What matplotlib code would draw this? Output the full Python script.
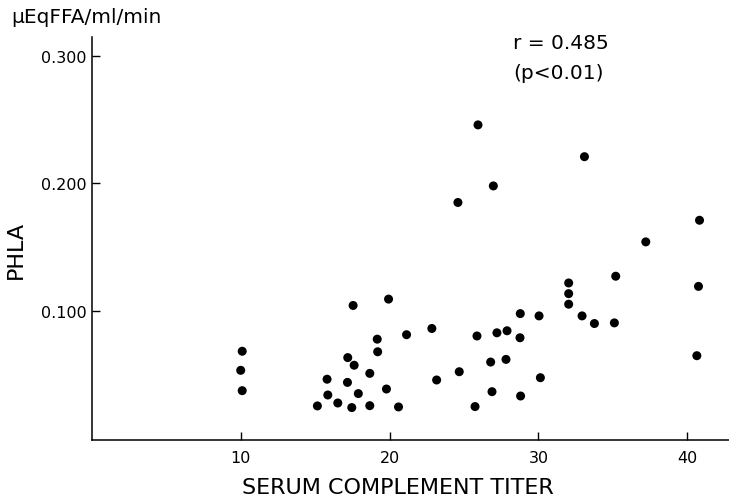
import matplotlib
matplotlib.use("Agg")
import matplotlib.pyplot as plt

# serum complement titer vs PHLA
titer = [10.1, 10.0, 10.1,
         17.55, 19.93, 21.14, 19.17, 19.2, 17.19, 17.62, 18.67, 15.8,
         17.17, 19.79, 15.85, 17.9, 16.52, 15.15, 17.46, 18.67, 20.6,
         22.84, 23.16, 24.68, 25.87, 25.74, 26.79, 26.88, 27.21, 27.89,
         27.82, 28.78, 28.76, 28.8, 30.04, 30.13, 32.03, 32.03, 32.03,
         32.93, 33.76, 35.1, 35.19, 40.75, 40.64,
         25.94, 33.09, 26.97, 24.59, 40.82, 37.21]
phla = [0.068, 0.053, 0.037,
        0.104, 0.109, 0.081, 0.0775, 0.0676, 0.063, 0.057, 0.0506, 0.046,
        0.0435, 0.0383, 0.0336, 0.0347, 0.0273, 0.025, 0.0237, 0.0252, 0.0242,
        0.0859, 0.0454, 0.0519, 0.080, 0.0245, 0.0595, 0.0362, 0.0825, 0.0841,
        0.0616, 0.0976, 0.0786, 0.0328, 0.0958, 0.0472, 0.1217, 0.1133, 0.105,
        0.0958, 0.0898, 0.0903, 0.127, 0.119, 0.0645,
        0.246, 0.221, 0.198, 0.185, 0.171, 0.154]

xticks = [10, 20, 30, 40]
yticks = [0.100, 0.200, 0.300]
ytick_labels = ["0.100", "0.200", "0.300"]

fig = plt.figure(figsize=(7.29, 5.02), dpi=100)
ax = fig.add_axes([0.126, 0.121, 0.874, 0.803])

ax.scatter(titer, phla, s=42, color="black", edgecolors="none", zorder=3)

ax.set_xlim(0, 42.8)
ax.set_ylim(-0.002, 0.315)
ax.set_xticks(xticks)
ax.set_yticks(yticks)
ax.set_yticklabels(ytick_labels)
ax.tick_params(direction="in", length=6, width=1, labelsize=11.5)
ax.tick_params(axis="x", pad=7)
ax.tick_params(axis="y", pad=4)

for side in ["top", "right"]:
    ax.spines[side].set_visible(False)
for side in ["left", "bottom"]:
    ax.spines[side].set_linewidth(1.1)

ax.set_xlabel("SERUM COMPLEMENT TITER", fontsize=16)
ax.xaxis.set_label_coords(0.48, -0.092)
ax.set_ylabel("PHLA", fontsize=16)
ax.yaxis.set_label_coords(-0.104, 0.474)
fig.text(0.016, 0.966, "µEqFFA/ml/min", fontsize=14.5, ha="left", va="center")

ax.text(0.661, 1.01, "r = 0.485\n(p<0.01)", transform=ax.transAxes,
        fontsize=14.5, ha="left", va="top", linespacing=1.75)

fig.savefig("out.png", dpi=100)
